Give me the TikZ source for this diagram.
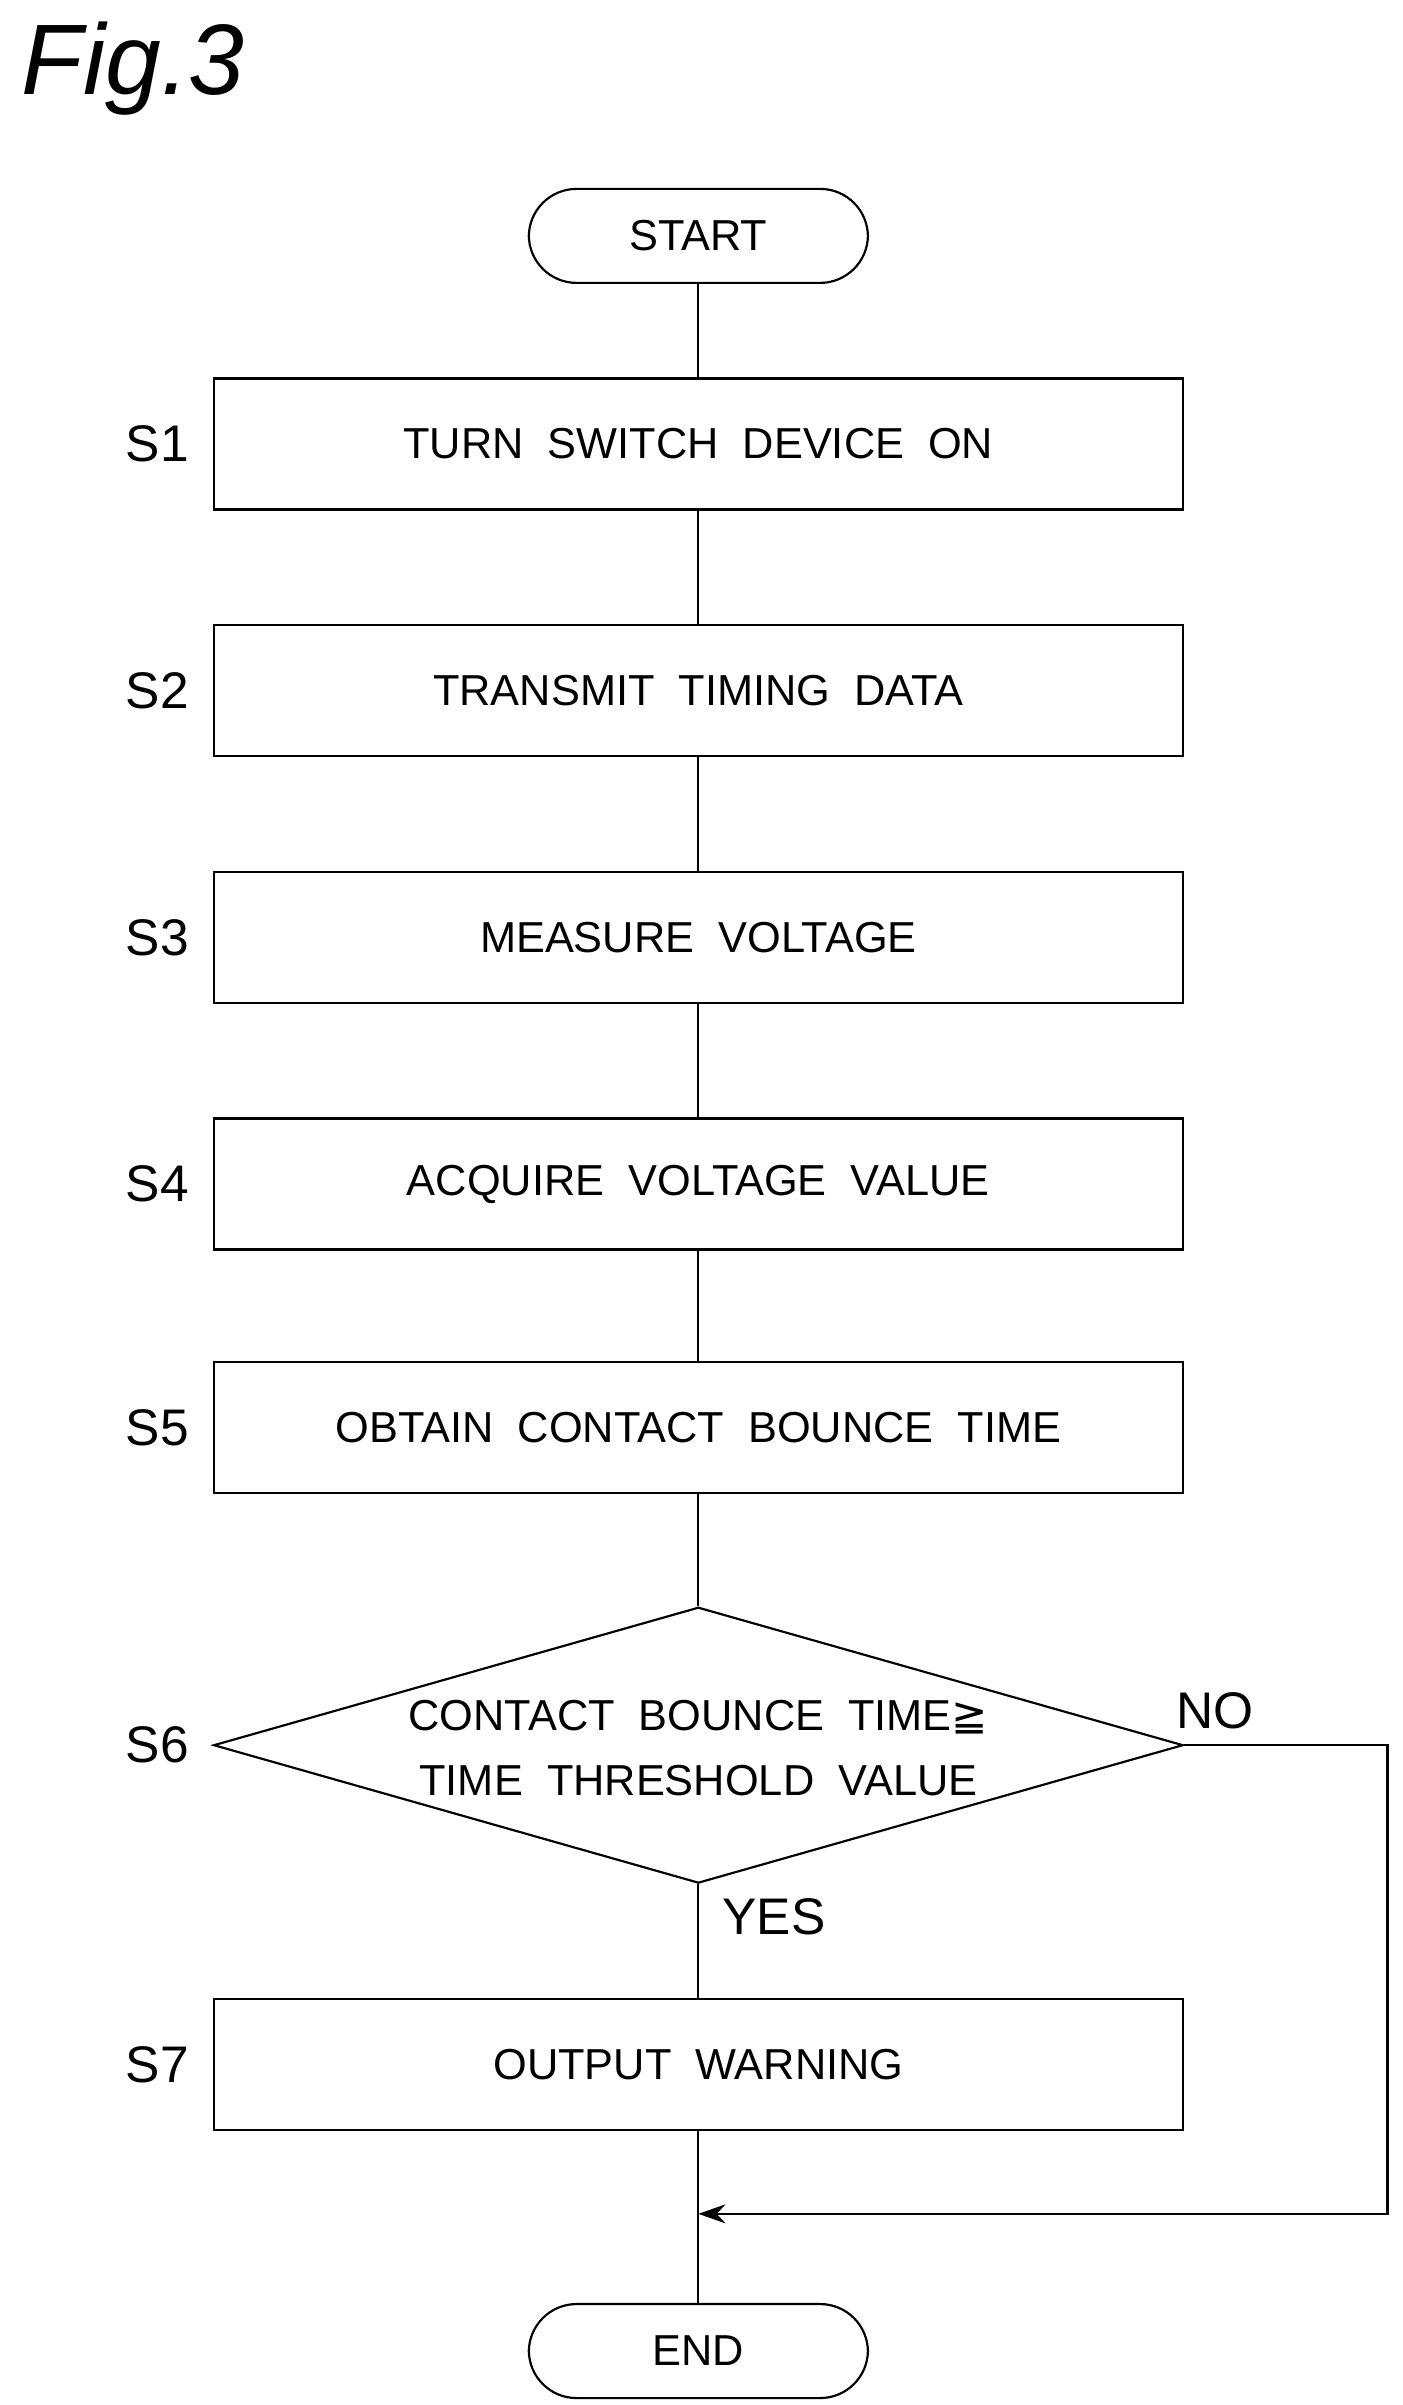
\documentclass[tikz,border=0pt]{standalone}
\usepackage{fontspec}
\setmainfont{Liberation Sans}
\newfontfamily\symfont{DejaVu Sans}
\usetikzlibrary{shapes.geometric, arrows.meta}
\tikzset{>={Stealth[length=10pt, width=7pt]}}
\tikzset{
    procbox/.style={draw, thick, minimum width=12.58cm, minimum height=1.7cm, font=\fontsize{16}{20}\selectfont},
    term/.style={draw, thick, rounded corners=0.62cm, minimum width=4.4cm, minimum height=1.22cm, font=\fontsize{16}{20}\selectfont},
    lbl/.style={font=\fontsize{19}{22}\selectfont}
}

\begin{document}
\begin{tikzpicture}[x=0.02cm, y=-0.02cm]
    \useasboundingbox (0,0) rectangle (910,1560);
    \node[anchor=north west, font=\fontsize{37}{40}\selectfont\itshape] (fig) at (8,8) {Fig.3};
    \node[term] (start) at (453,153) {START};
    \node[procbox] (s1) at (453,288) {TURN\ \ SWITCH\ \ DEVICE\ \ ON};
    \node[procbox] (s2) at (453,448) {TRANSMIT\ \ TIMING\ \ DATA};
    \node[procbox] (s3) at (453,608) {MEASURE\ \ VOLTAGE};
    \node[procbox] (s4) at (453,768) {ACQUIRE\ \ VOLTAGE\ \ VALUE};
    \node[procbox] (s5) at (453,926) {OBTAIN\ \ CONTACT\ \ BOUNCE\ \ TIME};
    \node[draw, thick, diamond, aspect=3.51, minimum width=12.58cm, minimum height=3.58cm, inner sep=0pt] (s6) at (453,1132) {};
    \node[align=center, font=\fontsize{16}{24}\selectfont] (s6t) at (453,1134) {CONTACT\ \ BOUNCE\ \ TIME{\symfont ≧}\\TIME\ \ THRESHOLD\ \ VALUE};
    \node[procbox] (s7) at (453,1339) {OUTPUT\ \ WARNING};
    \node[term] (end) at (453,1525) {END};
    \coordinate (join) at (453,1436);
    \coordinate (rt) at (900,1132);
    \coordinate (rb) at (900,1436);
    % step labels
    \foreach \n/\y in {1/288,2/448,3/608,4/768,5/926,6/1132,7/1339}
    \node[lbl] (l\n) at (102,\y) {S\n};
    \node[lbl] (no) at (788,1110) {NO};
    \node[lbl] (yes) at (502,1243) {YES};
    % connectors
    \draw[thick] (start) -- (s1);
    \draw[thick] (s1) -- (s2);
    \draw[thick] (s2) -- (s3);
    \draw[thick] (s3) -- (s4);
    \draw[thick] (s4) -- (s5);
    \draw[thick] (s5) -- (s6);
    \draw[thick] (s6) -- (s7);
    \draw[thick] (s7) -- (end);
    \draw[thick, ->] (s6.east) -- (rt) -- (rb) -- (join);
\end{tikzpicture}
\end{document}
